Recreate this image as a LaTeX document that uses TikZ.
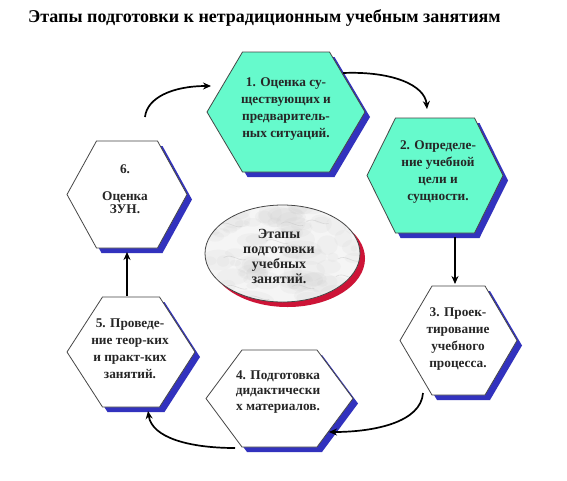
\documentclass[tikz,border=0pt]{standalone}
\usepackage{fontspec}
\setmainfont{Liberation Serif}
\usetikzlibrary{arrows.meta}
\definecolor{aquafill}{RGB}{102,250,204}
\definecolor{shblue}{RGB}{50,50,190}
\definecolor{shred}{RGB}{205,20,55}
\definecolor{edgegray}{RGB}{70,70,70}
% #1 name, #2 cx, #3 cy, #4 half width, #5 half top, #6 half height, #7 fill
\newcommand{\myhexa}[7]{%
  \fill[shblue] (#2-#4+5,#3+5) -- (#2-#5+5,#3-#6+5) -- (#2+#5+5,#3-#6+5)
     -- (#2+#4+5,#3+5) -- (#2+#5+5,#3+#6+5) -- (#2-#5+5,#3+#6+5) -- cycle;
  \filldraw[hexedge, fill=#7] (#2-#4,#3) coordinate (#1-w) -- (#2-#5,#3-#6) coordinate (#1-nw)
     -- (#2+#5,#3-#6) coordinate (#1-ne) -- (#2+#4,#3) coordinate (#1-e)
     -- (#2+#5,#3+#6) coordinate (#1-se) -- (#2-#5,#3+#6) coordinate (#1-sw) -- cycle;
}
\tikzset{
  hexedge/.style={draw=edgegray, line width=0.8pt, line join=miter},
  hextext/.style={font=\bfseries\fontsize{13.3}{17}\selectfont, align=center, inner sep=0pt, text=black!85},
  conn/.style={line width=1.7pt, -{Stealth[length=8pt,width=7pt]}},
}
\begin{document}
\begin{tikzpicture}[x=1pt,y=-1pt]
\useasboundingbox (0,0) rectangle (567,480);
\fill[white] (0,0) rectangle (567,480);

\node[anchor=base west, font=\bfseries\fontsize{18}{21}\selectfont, inner sep=0pt] (title) at (28,22)
  {Этапы подготовки к нетрадиционным учебным занятиям};

% hexagons
\myhexa{h1}{286}{112}{79}{43.5}{60}{aquafill}
\myhexa{h2}{435}{175.5}{68}{39.5}{57.5}{aquafill}
\myhexa{h3}{458.5}{340.5}{58.5}{26.5}{54.5}{white}
\myhexa{h4}{279.5}{398.5}{73.5}{37.5}{48.5}{white}
\myhexa{h5}{131}{352}{64}{28.5}{55}{white}
\myhexa{h6}{127}{194.5}{60}{30.5}{53.5}{white}

% central marble ellipse
\fill[shred] (287.5,258.5) ellipse [x radius=77.5pt, y radius=48.5pt];
\begin{scope}
  \clip (282.5,253.5) ellipse [x radius=77.5pt, y radius=48.5pt];
  \fill[gray!8] (200,200) rectangle (370,310);
  \pgfmathsetseed{11}
  \foreach \i in {1,...,90} {
    \pgfmathsetmacro{\rx}{203+160*rnd}
    \pgfmathsetmacro{\ry}{203+100*rnd}
    \pgfmathsetmacro{\rr}{3+8*rnd}
    \pgfmathsetmacro{\rw}{\rr*(1+1.5*rnd)}
    \fill[gray!45, opacity=0.12] (\rx,\ry) ellipse [x radius=\rw pt, y radius=\rr pt];
  }
  \foreach \i in {1,...,18} {
    \pgfmathsetmacro{\ax}{205+150*rnd}
    \pgfmathsetmacro{\ay}{205+95*rnd}
    \draw[gray!50, line width=0.6pt, opacity=0.45] (\ax,\ay) .. controls (\ax+8,\ay-5) and (\ax+14,\ay+4) .. (\ax+22,\ay+2);
  }
\end{scope}
\draw[edgegray, line width=0.8pt] (282.5,253.5) ellipse [x radius=77.5pt, y radius=48.5pt];

% texts
\node[hextext] (t1) at (286,109) {1. Оценка су-\\ществующих и\\предваритель-\\ных ситуаций.};
\node[hextext] (t2) at (438,172) {2. Определе-\\ние учебной\\цели и\\сущности.};
\node[hextext] (t3) at (458,339) {3. Проек-\\тирование\\учебного\\процесса.};
\node[hextext, font=\bfseries\fontsize{13.3}{15.5}\selectfont] (t4) at (278,392) {4. Подготовка\\дидактически\\х материалов.};
\node[hextext] (t5) at (130,349) {5. Проведе-\\ние теор-ких\\и практ-ких\\занятий.};
\node[hextext, font=\bfseries\fontsize{13.3}{13.5}\selectfont] (t6) at (125,189) {6.\\[13.5pt]Оценка\\ЗУН.};
\node[hextext, font=\bfseries\fontsize{14}{15}\selectfont] (tc) at (279,256) {Этапы\\подготовки\\учебных\\занятий.};

% connector end points
\coordinate (a1s) at (145,117);
\coordinate (a1e) at (211,86);
\coordinate (a2s) at (343,73);
\coordinate (a2e) at (427,109);
\coordinate (a3s) at (455,237);
\coordinate (a3e) at (455,284);
\coordinate (a4s) at (423,393);
\coordinate (a4e) at (329,432);
\coordinate (a5s) at (235,448);
\coordinate (a5e) at (148,411);
\coordinate (a6s) at (127,296);
\coordinate (a6e) at (127,252);

\draw[conn] (a1s) .. controls (147,98) and (172,86) .. (a1e);
\draw[conn] (a2s) .. controls (392,71) and (425,85) .. (a2e);
\draw[conn] (a3s) -- (a3e);
\draw[conn] (a4s) .. controls (421,422) and (375,432) .. (a4e);
\draw[conn] (a5s) .. controls (190,448) and (152,438) .. (a5e);
\draw[conn] (a6s) -- (a6e);
\end{tikzpicture}
\end{document}
